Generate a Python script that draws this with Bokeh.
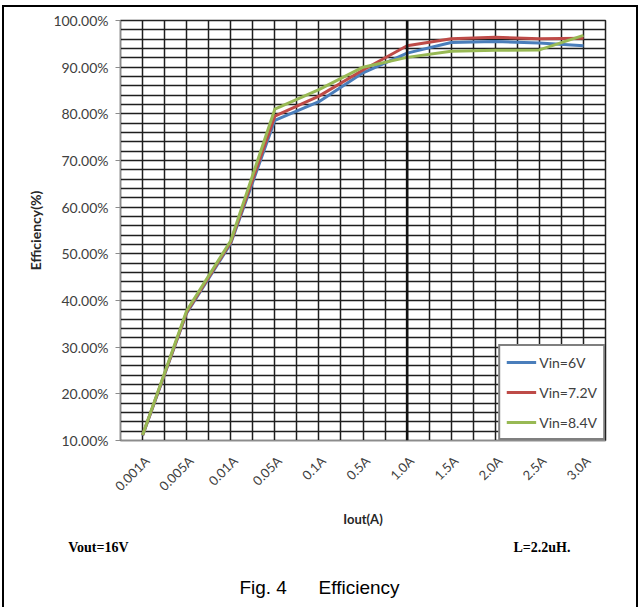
import math
from bokeh.plotting import figure
from bokeh.models import FixedTicker, Span, Legend, LegendItem, Range1d, LinearAxis
from bokeh.embed import file_html
from bokeh.resources import INLINE

# ---------------- data ----------------
categories = ["0.001A", "0.005A", "0.01A", "0.05A", "0.1A", "0.5A",
              "1.0A", "1.5A", "2.0A", "2.5A", "3.0A"]
eff_vin_6v = [11.0, 37.3, 52.2, 78.6, 82.6, 88.8, 93.0, 95.3, 95.5, 95.2, 94.6]
eff_vin_72v = [11.1, 37.5, 52.5, 79.5, 83.8, 89.4, 94.6, 96.1, 96.4, 96.1, 96.2]
eff_vin_84v = [11.2, 37.8, 52.8, 81.0, 85.2, 90.0, 92.1, 93.4, 93.6, 93.7, 96.8]
series_names = ["Vin=6V", "Vin=7.2V", "Vin=8.4V"]
y_ticks = [10, 20, 30, 40, 50, 60, 70, 80, 90, 100]
y_min, y_max = 10, 100
y_minor_step = 2
note_left = "Vout=16V"
note_right = "L=2.2uH."
caption = "Fig. 4" + "\u00a0" * 6 + "Efficiency"

# ---------------- style / layout ----------------
colors = ["#4a7ebb", "#be4b48", "#98b954"]
tick_font = "Lato"
label_shift = 0.1  # rotated label offset, in category widths
frame_w, frame_h = 485, 420

n = len(categories)
xs = [i + 0.5 for i in range(n)]

p = figure(width=632, height=603, output_backend="svg", toolbar_location=None,
           x_range=Range1d(0, n), y_range=Range1d(y_min, y_max),
           frame_width=frame_w, frame_height=frame_h,
           min_border_left=116, min_border_right=31, min_border_top=13,
           min_border_bottom=170)
p.styles = {"border": "2px solid black", "margin-left": "2px", "margin-top": "5px"}
p.background_fill_color = "white"
p.border_fill_color = "white"
p.outline_line_color = "#222222"
p.outline_line_width = 1.5
# pixel-offset range (frame left = 0) used to place the notes under the chart
p.extra_x_ranges = {"px": Range1d(0, frame_w)}

# grids
p.xgrid.ticker = FixedTicker(ticks=[k * 0.5 for k in range(2 * n + 1)])
p.ygrid.ticker = FixedTicker(ticks=list(range(y_min, y_max + 1, y_minor_step)))
for g in (p.xgrid, p.ygrid):
    g.grid_line_color = "#1e1e1e"
    g.grid_line_width = 1.5
    g.grid_line_alpha = 1.0

p.add_layout(Span(location=xs[categories.index("1.0A")], dimension="height",
                  line_color="#111111", line_width=2.5))

# y axis
p.yaxis.ticker = FixedTicker(ticks=y_ticks)
p.yaxis.major_label_overrides = {v: f"{v:.2f}%" for v in y_ticks}
p.yaxis.major_label_text_font = tick_font
p.yaxis.major_label_text_font_size = "14px"
p.yaxis.major_label_text_color = "#404040"
p.yaxis.major_tick_out = 5
p.yaxis.major_tick_in = 0
p.yaxis.major_tick_line_color = "#8c8c8c"
p.yaxis.minor_tick_line_color = None
p.yaxis.axis_line_color = "#8c8c8c"
p.yaxis.major_label_standoff = 7
p.yaxis.axis_label = "Efficiency(%)"
p.yaxis.axis_label_text_font = tick_font
p.yaxis.axis_label_text_font_style = "bold"
p.yaxis.axis_label_text_font_size = "14px"
p.yaxis.axis_label_text_color = "#262626"
p.yaxis.axis_label_standoff = 6

# x axis
x_label_ticks = [x + label_shift for x in xs]
p.xaxis.ticker = FixedTicker(ticks=x_label_ticks)
p.xaxis.major_label_overrides = {t: c for t, c in zip(x_label_ticks, categories)}
p.xaxis.major_label_orientation = math.pi / 4
p.xaxis.major_label_text_font = tick_font
p.xaxis.major_label_text_font_size = "13px"
p.xaxis.major_label_text_color = "#404040"
p.xaxis.major_tick_line_color = None
p.xaxis.minor_tick_line_color = None
p.xaxis.axis_line_color = "#8c8c8c"
p.xaxis.major_label_standoff = 12
p.xaxis.axis_label = "Iout(A)"
p.xaxis.axis_label_text_font = tick_font
p.xaxis.axis_label_text_font_style = "bold"
p.xaxis.axis_label_text_font_size = "13px"
p.xaxis.axis_label_text_color = "#262626"
p.xaxis.axis_label_standoff = 8

# notes line (right-aligned texts: tick = right end, pixels from frame left)
note_ticks = [8, 450]
notes_axis = LinearAxis(x_range_name="px", ticker=FixedTicker(ticks=note_ticks),
                        major_label_overrides={note_ticks[0]: note_left,
                                               note_ticks[1]: note_right},
                        major_label_orientation=1e-6,
                        axis_line_color=None, major_tick_line_color=None,
                        minor_tick_line_color=None, major_tick_out=0, major_tick_in=0,
                        major_label_standoff=18,
                        major_label_text_font="Liberation Serif",
                        major_label_text_font_style="bold",
                        major_label_text_font_size="14px",
                        major_label_text_color="black")
p.add_layout(notes_axis, "below")

# caption line (centred text)
cap_tick = [199]
caption_axis = LinearAxis(x_range_name="px", ticker=FixedTicker(ticks=cap_tick),
                          major_label_overrides={cap_tick[0]: caption},
                          major_label_orientation="horizontal",
                          axis_line_color=None, major_tick_line_color=None,
                          minor_tick_line_color=None, major_tick_out=0, major_tick_in=0,
                          major_label_standoff=11,
                          major_label_text_font="Liberation Sans",
                          major_label_text_font_size="19px",
                          major_label_text_color="black")
p.add_layout(caption_axis, "below")

# lines
renderers = []
for vals, col in zip([eff_vin_6v, eff_vin_72v, eff_vin_84v], colors):
    r = p.line(xs, vals, line_color=col, line_width=3, line_join="round")
    renderers.append(r)

legend = Legend(items=[LegendItem(label=nm, renderers=[r]) for nm, r in zip(series_names, renderers)],
                location="bottom_right", margin=0, padding=6, spacing=10,
                glyph_width=30, glyph_height=20, label_height=20, label_standoff=3,
                label_text_font=tick_font, label_text_font_size="14px",
                label_text_color="#404040", border_line_color="black",
                border_line_width=2, background_fill_color="white",
                background_fill_alpha=1.0)
p.add_layout(legend)

open("out.html", "w").write(file_html(p, INLINE))
